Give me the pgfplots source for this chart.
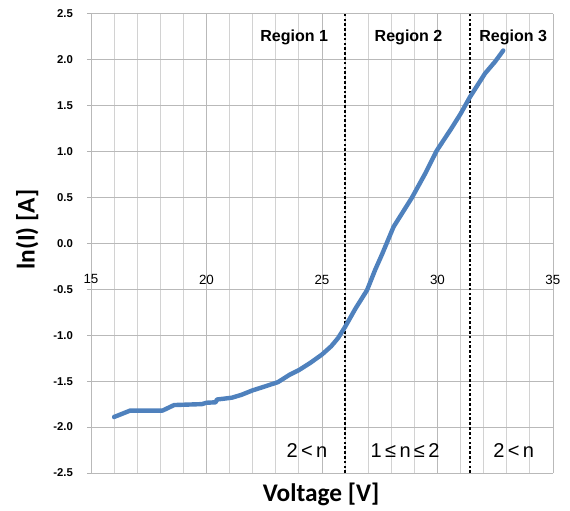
\documentclass[border=0pt]{standalone}
\usepackage{fontspec}
\setmainfont{Liberation Sans}
\newfontfamily\titlefont{Carlito}
\usepackage{pgfplots}
\pgfplotsset{compat=1.18}
\definecolor{curveblue}{RGB}{79,129,189}
\begin{document}
\begin{tikzpicture}
\begin{axis}[
    scale only axis,
    width=346pt, height=344pt,
    xmin=15, xmax=35, ymin=-2.5, ymax=2.5,
    axis x line=middle, axis y line=left,
    axis line style={-, draw=gray!55, line width=0.6pt},
    hide obscured x ticks=false,
    hide obscured y ticks=false,
    xtick={15,20,25,30,35},
    minor x tick num=4,
    ytick={-2.5,-2,-1.5,-1,-0.5,0,0.5,1,1.5,2,2.5},
    grid=both,
    major grid style={gray!55, line width=0.6pt},
    minor grid style={gray!35, line width=0.6pt},
    x tick style={draw=none},
    minor x tick style={draw=none},
    y tick style={gray!60, line width=0.6pt},
    tick align=outside,
    major tick length=3pt,
    /pgf/number format/assume math mode=true,
    yticklabel style={/pgf/number format/.cd, fixed, fixed zerofill, precision=1,
        /tikz/.cd, font=\fontsize{8.5}{10}\selectfont\bfseries, anchor=east, xshift=-7pt},
    xticklabel style={font=\fontsize{10}{12}\selectfont, anchor=center, yshift=-24pt},
    xlabel={Voltage [V]},
    ylabel={ln(I) [A]},
    xlabel style={at={(axis description cs:0.498,0)}, anchor=north, yshift=-4pt,
        font=\titlefont\fontsize{19}{22}\selectfont\bfseries},
    ylabel style={at={(axis description cs:-0.138,0.53)}, anchor=center, rotate=0,
        font=\titlefont\fontsize{19}{22}\selectfont\bfseries},
    clip=false,
]
% page extent of the original figure
\path[draw=none] (rel axis cs:-0.197,-0.074) rectangle (rel axis cs:1.037,1.030);
% region boundaries
\addplot[black, line width=1.3pt, dash pattern=on 2pt off 1.6pt] coordinates {(26,-2.5) (26,2.5)};
\addplot[black, line width=1.3pt, dash pattern=on 2pt off 1.6pt] coordinates {(31.4,-2.5) (31.4,2.5)};
% measured curve
\addplot[curveblue, line width=3.3pt, line join=round, line cap=round] coordinates {
    (16.0,-1.89) (16.3,-1.86) (16.7,-1.82) (18.1,-1.82) (18.35,-1.79)
    (18.6,-1.76) (19.8,-1.75) (20.0,-1.735) (20.4,-1.73) (20.45,-1.70)
    (21.1,-1.68) (21.5,-1.65) (22.0,-1.60) (22.5,-1.56) (23.1,-1.51)
    (23.6,-1.43) (24.0,-1.38) (24.5,-1.30) (25.0,-1.21) (25.4,-1.12)
    (25.7,-1.03) (26.0,-0.91) (26.45,-0.71) (26.95,-0.51) (27.3,-0.29)
    (27.6,-0.12) (28.1,0.18) (28.5,0.34) (28.9,0.50) (29.47,0.76)
    (29.97,1.01) (30.6,1.25) (31.0,1.41) (31.4,1.59) (32.06,1.85)
    (32.5,1.98) (32.85,2.10)
};
\node[font=\fontsize{12}{14}\selectfont\bfseries] at (axis cs:23.8,2.24) {Region 1};
\node[font=\fontsize{12}{14}\selectfont\bfseries] at (axis cs:28.75,2.24) {Region 2};
\node[font=\fontsize{12}{14}\selectfont\bfseries] at (axis cs:33.28,2.24) {Region 3};
\node[font=\fontsize{15}{18}\selectfont] at (axis cs:24.35,-2.25) {2\,<\,n};
\node[font=\fontsize{15}{18}\selectfont] at (axis cs:28.6,-2.25) {1\,≤\,n\,≤\,2};
\node[font=\fontsize{15}{18}\selectfont] at (axis cs:33.3,-2.25) {2\,<\,n};
\end{axis}
\end{tikzpicture}
\end{document}
